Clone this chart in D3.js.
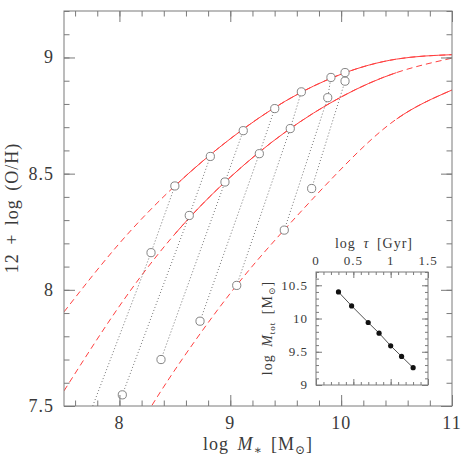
<!DOCTYPE html>
<html>
<head>
<meta charset="utf-8">
<script src="https://cdn.jsdelivr.net/npm/d3@7"></script>
<style>
body { margin: 0; background: #fff; }
svg text { font-family: "Liberation Serif", "DejaVu Serif", serif; fill: #3a3a3a; letter-spacing: 1px; word-spacing: 3px; }
</style>
</head>
<body>
<div id="chart"></div>
<script>
// tick labels
const massTicks = [8, 9, 10, 11]
const ohTicks = [7.5, 8, 8.5, 9]
const tauTicks = [0, 0.5, 1, 1.5]
const mtotTicks = [9, 9.5, 10, 10.5]

// mass-metallicity relations [log M*, 12 + log(O/H)]
const relationTop = [[7.5, 7.905], [8, 8.2], [8.5, 8.447], [9, 8.65], [9.5, 8.813], [10, 8.928], [10.5, 8.993], [11, 9.012]]
const relationMid = [[7.5, 7.565], [8, 7.93], [8.5, 8.24], [9, 8.485], [9.5, 8.68], [10, 8.83], [10.5, 8.935], [11, 8.997]]
const relationLow = [[8.2, 7.43], [8.5, 7.655], [9, 7.985], [9.5, 8.265], [10, 8.52], [10.5, 8.735], [11, 8.86]]
// range where each relation is drawn solid
const solidTop = [8.5, 11]
const solidMid = [8.5, 10.5]
const solidLow = [10.5, 11]

// model tracks, one entry per tau
const massEpoch1 = [8.5, 8.82, 9.117, 9.401, 9.641, 9.908, 10.035]
const ohEpoch1 = [8.447, 8.574, 8.685, 8.78, 8.852, 8.914, 8.935]
const massEpoch2 = [8.285, 8.63, 8.952, 9.262, 9.541, 9.879, 10.035]
const ohEpoch2 = [8.16, 8.32, 8.464, 8.586, 8.694, 8.827, 8.898]
const massEpoch3 = [7.677, 8.026, 8.375, 8.727, 9.058, 9.487, 9.734]
const ohEpoch3 = [7.397, 7.548, 7.7, 7.865, 8.019, 8.257, 8.436]

// inset
const logTau = [0.301, 0.477, 0.699, 0.845, 1.0, 1.146, 1.301]
const logMtot = [10.4, 10.19, 9.94, 9.78, 9.59, 9.43, 9.26]

const RED = '#ff4040'
const AXIS = '#7a7a7a'

const svg = d3.select('#chart')
    .append('svg')
    .attr('width', 463)
    .attr('height', 463)

const frame = { left: 64, right: 452, top: 11, bottom: 406 }
const x = d3.scaleLinear().domain([7.5, 11]).range([frame.left, frame.right])
const y = d3.scaleLinear().domain([7.5, 9.2]).range([frame.bottom, frame.top])

function range(a, b, step) {
    return d3.range(Math.round((b - a) / step) + 1).map(i => +(a + i * step).toFixed(3))
}

// ticks on all four sides, pointing inward
function drawTicks(g, sx, sy, minorX, minorY, majorX, majorY, lenMinor, lenMajor) {
    const [x0, x1] = sx.range()
    const [y0, y1] = sy.range()
    const sets = [
        [d3.axisBottom(sx), `translate(0,${y0})`, minorX, lenMinor],
        [d3.axisBottom(sx), `translate(0,${y0})`, majorX, lenMajor],
        [d3.axisTop(sx), `translate(0,${y1})`, minorX, lenMinor],
        [d3.axisTop(sx), `translate(0,${y1})`, majorX, lenMajor],
        [d3.axisLeft(sy), `translate(${x0},0)`, minorY, lenMinor],
        [d3.axisLeft(sy), `translate(${x0},0)`, majorY, lenMajor],
        [d3.axisRight(sy), `translate(${x1},0)`, minorY, lenMinor],
        [d3.axisRight(sy), `translate(${x1},0)`, majorY, lenMajor]
    ]
    sets.forEach(([axis, tr, vals, len]) => {
        const a = g.append('g')
            .attr('transform', tr)
            .call(axis.tickValues(vals).tickSize(-len).tickFormat(''))
        a.select('.domain').remove()
        a.selectAll('line').attr('stroke', AXIS)
    })
    g.append('rect')
        .attr('x', x0).attr('y', y1)
        .attr('width', x1 - x0).attr('height', y0 - y1)
        .attr('fill', 'none').attr('stroke', AXIS)
}

// clip for the main panel
svg.append('clipPath').attr('id', 'plot-clip')
    .append('rect')
    .attr('x', frame.left).attr('y', frame.top)
    .attr('width', frame.right - frame.left).attr('height', frame.bottom - frame.top)

const plot = svg.append('g').attr('clip-path', 'url(#plot-clip)')

const relLine = d3.line()
    .x(d => x(d[0]))
    .y(d => y(d[1]))
    .curve(d3.curveNatural)

// relations: dashed everywhere, solid over their range
;[[relationTop, solidTop], [relationMid, solidMid], [relationLow, solidLow]].forEach(([rel, solid], i) => {
    plot.append('path')
        .attr('d', relLine(rel))
        .attr('fill', 'none')
        .attr('stroke', RED)
        .attr('stroke-width', 1)
        .attr('stroke-dasharray', '6,4')

    svg.append('clipPath').attr('id', 'solid-' + i)
        .append('rect')
        .attr('x', x(solid[0])).attr('y', frame.top)
        .attr('width', x(solid[1]) - x(solid[0])).attr('height', frame.bottom - frame.top)

    plot.append('g').attr('clip-path', `url(#solid-${i})`)
        .append('path')
        .attr('d', relLine(rel))
        .attr('fill', 'none')
        .attr('stroke', RED)
        .attr('stroke-width', 1)
})

// dotted tracks and open circles
const tracks = massEpoch1.map((m, i) => [
    [massEpoch3[i], ohEpoch3[i]],
    [massEpoch2[i], ohEpoch2[i]],
    [m, ohEpoch1[i]]
])

plot.selectAll('.track')
    .data(tracks)
    .enter()
    .append('path')
    .attr('class', 'track')
    .attr('d', d3.line().x(d => x(d[0])).y(d => y(d[1])))
    .attr('fill', 'none')
    .attr('stroke', '#666')
    .attr('stroke-width', 0.9)
    .attr('stroke-dasharray', '1,2.2')

plot.selectAll('.model')
    .data(tracks.flat())
    .enter()
    .append('circle')
    .attr('class', 'model')
    .attr('cx', d => x(d[0]))
    .attr('cy', d => y(d[1]))
    .attr('r', 4.1)
    .attr('fill', '#fff')
    .attr('stroke', '#666')
    .attr('stroke-width', 0.8)

// main axes
const axes = svg.append('g')
drawTicks(axes, x, y, range(7.6, 11, 0.2), range(7.5, 9.2, 0.1), massTicks, ohTicks, 5.5, 11)

axes.selectAll('.xlab')
    .data(massTicks)
    .enter()
    .append('text')
    .attr('x', d => x(d))
    .attr('y', 429)
    .attr('text-anchor', 'middle')
    .attr('font-size', 18)
    .text(d => d)

axes.selectAll('.ylab')
    .data(ohTicks)
    .enter()
    .append('text')
    .attr('x', 54)
    .attr('y', d => y(d))
    .attr('dy', '0.33em')
    .attr('text-anchor', 'end')
    .attr('font-size', 18)
    .text(d => d)

const xTitle = svg.append('text')
    .attr('x', 258).attr('y', 450)
    .attr('text-anchor', 'middle')
    .attr('font-size', 18)
xTitle.append('tspan').text('log ')
xTitle.append('tspan').attr('font-style', 'italic').text('M')
xTitle.append('tspan').attr('font-size', 12).attr('dy', 4).text('∗')
xTitle.append('tspan').attr('dy', -4).text(' [M')
xTitle.append('tspan').attr('font-size', 12).attr('dy', 4).text('⊙')
xTitle.append('tspan').attr('dy', -4).text(']')

svg.append('text')
    .attr('transform', 'translate(18,208) rotate(-90)')
    .attr('text-anchor', 'middle')
    .attr('font-size', 18)
    .text('12 + log (O/H)')

// inset
const box = { left: 316, right: 428, top: 272, bottom: 385 }
const ix = d3.scaleLinear().domain([0, 1.5]).range([box.left, box.right])
const iy = d3.scaleLinear().domain([9, 10.7]).range([box.bottom, box.top])

const inset = svg.append('g')
inset.append('rect')
    .attr('x', box.left).attr('y', box.top)
    .attr('width', box.right - box.left).attr('height', box.bottom - box.top)
    .attr('fill', '#fff')
drawTicks(inset, ix, iy, range(0, 1.5, 0.1), range(9, 10.7, 0.1), tauTicks, mtotTicks, 3, 6)

inset.append('path')
    .datum(logTau.map((t, i) => [t, logMtot[i]]))
    .attr('d', d3.line().x(d => ix(d[0])).y(d => iy(d[1])))
    .attr('fill', 'none')
    .attr('stroke', '#222')
    .attr('stroke-width', 0.8)

inset.selectAll('.dot')
    .data(logTau)
    .enter()
    .append('circle')
    .attr('cx', d => ix(d))
    .attr('cy', (d, i) => iy(logMtot[i]))
    .attr('r', 2.6)
    .attr('fill', '#111')

inset.selectAll('.txlab')
    .data(tauTicks)
    .enter()
    .append('text')
    .attr('x', d => ix(d))
    .attr('y', 265)
    .attr('text-anchor', 'middle')
    .attr('font-size', 13)
    .text(d => d)

inset.selectAll('.tylab')
    .data(mtotTicks)
    .enter()
    .append('text')
    .attr('x', 308)
    .attr('y', d => iy(d))
    .attr('dy', '0.33em')
    .attr('text-anchor', 'end')
    .attr('font-size', 13)
    .text(d => d)

const tTitle = inset.append('text')
    .attr('x', 374).attr('y', 248)
    .attr('text-anchor', 'middle')
    .attr('font-size', 14)
tTitle.append('tspan').text('log ')
tTitle.append('tspan').attr('font-style', 'italic').text('τ')
tTitle.append('tspan').text(' [Gyr]')

const mTitle = inset.append('text')
    .attr('transform', 'translate(272,328) rotate(-90)')
    .attr('text-anchor', 'middle')
    .attr('font-size', 14)
mTitle.append('tspan').text('log ')
mTitle.append('tspan').attr('font-style', 'italic').text('M')
mTitle.append('tspan').attr('font-size', 9).attr('dy', 3).text('tot')
mTitle.append('tspan').attr('dy', -3).text(' [M')
mTitle.append('tspan').attr('font-size', 9).attr('dy', 3).text('⊙')
mTitle.append('tspan').attr('dy', -3).text(']')
</script>
</body>
</html>
